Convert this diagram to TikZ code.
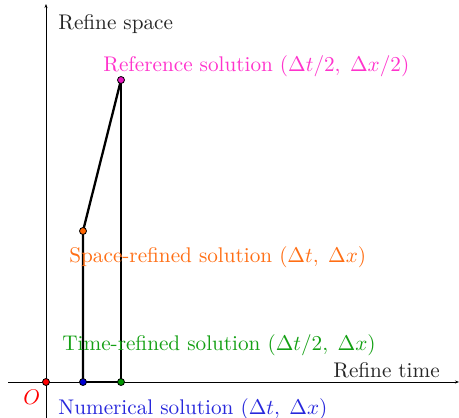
\documentclass[tikz,border=0pt]{standalone}
\usetikzlibrary{arrows.meta}
\definecolor{cpink}{RGB}{255,51,204}
\definecolor{corange}{RGB}{255,110,20}
\definecolor{cgreen}{RGB}{20,160,20}
\definecolor{cblue}{RGB}{40,40,220}
\definecolor{cdotpink}{RGB}{230,20,190}
\definecolor{cdotorange}{RGB}{255,100,0}
\definecolor{cdotgreen}{RGB}{0,150,0}
\definecolor{cdotblue}{RGB}{0,0,210}
\begin{document}
\begin{tikzpicture}[x=1pt,y=-1pt,
  lbl/.style={anchor=base west,inner sep=0pt,font=\normalsize,scale=2.12,transform shape},
  pt/.style={circle,draw=black,line width=0.8pt,inner sep=0pt,minimum size=7pt},
  axis/.style={line width=0.8pt,-{Stealth[length=4pt,width=3pt]}},
  path/.style={line width=2.3pt}]
\useasboundingbox (0,0) rectangle (459,418);
\coordinate (xs) at (8,382);
\coordinate (xe) at (459,382);
\coordinate (ys) at (46,418);
\coordinate (ye) at (46,4);
\draw[axis] (xs) -- (xe);
\draw[axis] (ys) -- (ye);
\coordinate (O) at (46,382);
\coordinate (N) at (83,382);
\coordinate (T) at (121,382);
\coordinate (S) at (83,231);
\coordinate (R) at (121,80);
\draw[path] (N) -- (T) -- (R);
\draw[path] (N) -- (S) -- (R);
\node[pt,fill=red] (pO) at (O) {};
\node[pt,fill=cdotblue] (pN) at (N) {};
\node[pt,fill=cdotgreen] (pT) at (T) {};
\node[pt,fill=cdotorange] (pS) at (S) {};
\node[pt,fill=cdotpink] (pR) at (R) {};
\node[lbl,text=black!85] (ls) at (58,29) {Refine space};
\node[lbl,text=cpink] (lr) at (103,71) {Reference solution $(\Delta t/2,\;\Delta x/2)$};
\node[lbl,text=corange] (lsp) at (69,262) {Space-refined solution $(\Delta t,\;\Delta x)$};
\node[lbl,text=cgreen] (lt) at (62,350) {Time-refined solution $(\Delta t/2,\;\Delta x)$};
\node[lbl,text=black!85] (lrt) at (333,377) {Refine time};
\node[lbl,text=red] (lo) at (23,404) {$O$};
\node[lbl,text=cblue] (ln) at (58,414) {Numerical solution $(\Delta t,\;\Delta x)$};
\end{tikzpicture}
\end{document}
